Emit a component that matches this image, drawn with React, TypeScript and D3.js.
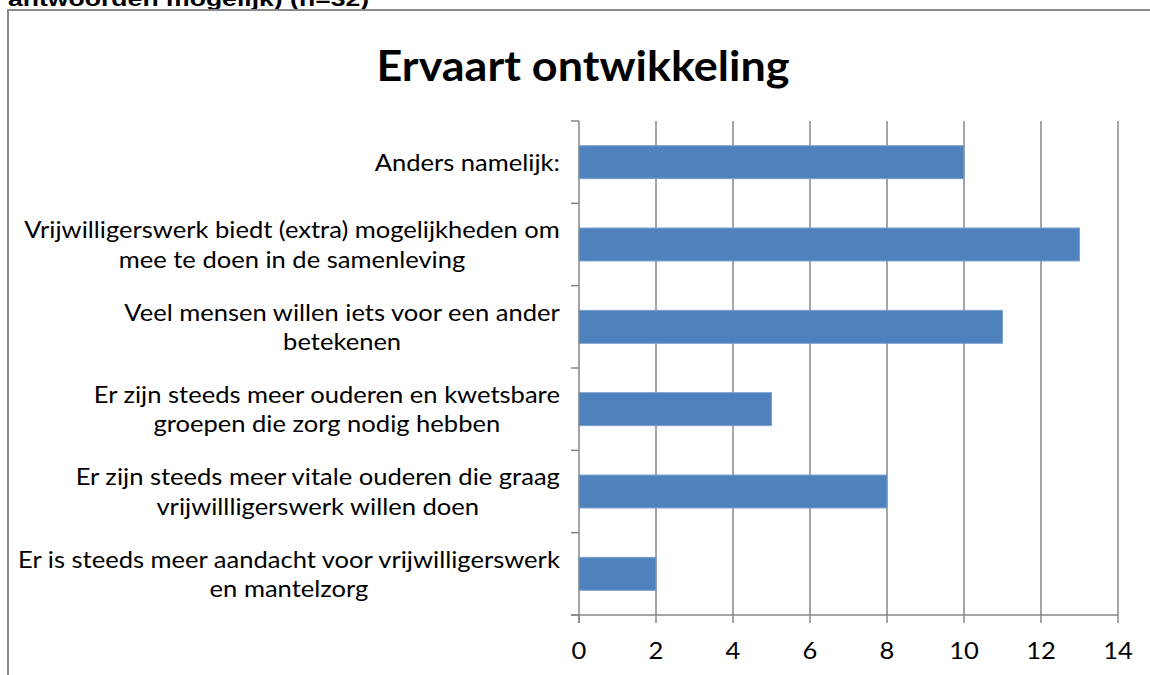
import React, { useEffect, useRef } from "react";
import * as d3 from "d3";

const categories: string[] = [
  "Anders namelijk:",
  "Vrijwilligerswerk biedt (extra) mogelijkheden om\nmee te doen in de samenleving",
  "Veel mensen willen iets voor een ander\nbetekenen",
  "Er zijn steeds meer ouderen en kwetsbare\ngroepen die zorg nodig hebben",
  "Er zijn steeds meer vitale ouderen die graag\nvrijwillligerswerk willen doen",
  "Er is steeds meer aandacht voor vrijwilligerswerk\nen mantelzorg",
];
const values: number[] = [10, 13, 11, 5, 8, 2];
const xTicks: number[] = [0, 2, 4, 6, 8, 10, 12, 14];
const title = "Ervaart ontwikkeling";
const headerText = "antwoorden mogelijk) (n=32)";

const W = 1150;
const H = 675;
const FONT = "Lato, 'Open Sans', sans-serif";
const LABEL_SIZE = 23;

export default function App() {
  const ref = useRef<SVGSVGElement | null>(null);

  useEffect(() => {
    const svg = d3.select(ref.current);
    svg.selectAll("*").remove();

    const plot = { left: 579, right: 1118, top: 121, bottom: 615 };
    const x = d3.scaleLinear().domain([0, 14]).range([plot.left, plot.right]);
    const y = d3
      .scaleBand<string>()
      .domain(categories)
      .range([plot.top, plot.bottom])
      .paddingInner(0.6)
      .paddingOuter(0.3);

    // horizontal stretch derived from the widest label line (≈536px in the reference)
    const probe = svg
      .append("text")
      .attr("font-family", FONT)
      .attr("font-size", LABEL_SIZE)
      .text(categories[1].split("\n")[0]);
    const SX = 536 / (probe.node() as SVGTextElement).getComputedTextLength();
    probe.remove();

    // header text (clipped at top)
    svg
      .append("text")
      .attr("transform", "translate(8,6) scale(1.33,1)")
      .attr("font-family", "'Liberation Sans', Arial, sans-serif")
      .attr("font-weight", "bold")
      .attr("font-size", 20)
      .attr("fill", "#000")
      .text(headerText);

    // frame
    svg
      .append("path")
      .attr("d", `M8,${H + 5} L8,10 L${W + 5},10`)
      .attr("fill", "none")
      .attr("stroke", "#8a8a8a")
      .attr("stroke-width", 2);

    // title
    const titleEl = svg
      .append("text")
      .attr("text-anchor", "middle")
      .attr("font-family", FONT)
      .attr("font-weight", "bold")
      .attr("font-size", 42)
      .attr("fill", "#000")
      .text(title);
    const tw = (titleEl.node() as SVGTextElement).getComputedTextLength();
    titleEl.attr("transform", `translate(583,81) scale(${413 / tw},1)`);

    // gridlines
    svg
      .append("g")
      .selectAll("line")
      .data(xTicks.filter((t) => t > 0))
      .join("line")
      .attr("x1", (d) => x(d))
      .attr("x2", (d) => x(d))
      .attr("y1", plot.top)
      .attr("y2", plot.bottom)
      .attr("stroke", "#878787")
      .attr("stroke-width", 1.5);

    // bars
    svg
      .append("g")
      .selectAll("rect")
      .data(categories)
      .join("rect")
      .attr("x", x(0))
      .attr("y", (d) => y(d)!)
      .attr("width", (d, i) => x(values[i]) - x(0))
      .attr("height", y.bandwidth())
      .attr("fill", "#4F81BD")
      .attr("stroke", "#7A9FD0")
      .attr("stroke-width", 1);

    // y axis line + ticks
    const yAxis = svg.append("g").attr("stroke", "#878787").attr("stroke-width", 1.5);
    yAxis
      .append("line")
      .attr("x1", x(0))
      .attr("x2", x(0))
      .attr("y1", plot.top)
      .attr("y2", plot.bottom + 8);
    const bounds = categories.map((c) => y(c)! - (y.step() * y.paddingInner()) / 2);
    bounds.push(plot.bottom);
    yAxis
      .selectAll("line.tick")
      .data(bounds)
      .join("line")
      .attr("class", "tick")
      .attr("x1", x(0) - 8)
      .attr("x2", x(0))
      .attr("y1", (d) => d)
      .attr("y2", (d) => d);

    // x axis line + ticks
    const xAxis = svg.append("g").attr("stroke", "#878787").attr("stroke-width", 1.5);
    xAxis
      .append("line")
      .attr("x1", x(0) - 8)
      .attr("x2", plot.right)
      .attr("y1", plot.bottom)
      .attr("y2", plot.bottom);
    xAxis
      .selectAll("line.tick")
      .data(xTicks)
      .join("line")
      .attr("class", "tick")
      .attr("x1", (d) => x(d))
      .attr("x2", (d) => x(d))
      .attr("y1", plot.bottom)
      .attr("y2", plot.bottom + 8);

    // x tick labels
    svg
      .append("g")
      .selectAll("text")
      .data(xTicks)
      .join("text")
      .attr("transform", (d) => `translate(${x(d)},${plot.bottom + 44}) scale(${SX},1)`)
      .attr("text-anchor", "middle")
      .attr("font-family", FONT)
      .attr("font-size", LABEL_SIZE)
      .attr("fill", "#000")
      .text((d) => String(d));

    // category labels: lines centered within block, block right-aligned
    const rightEdge = x(0) - 19;
    const lineH = 29.5;
    categories.forEach((c) => {
      const lines = c.split("\n");
      const g = svg.append("g");
      const texts = lines.map((ln) =>
        g
          .append("text")
          .attr("font-family", FONT)
          .attr("font-size", LABEL_SIZE)
          .attr("fill", "#000")
          .attr("text-anchor", "middle")
          .text(ln)
      );
      const maxW = d3.max(texts, (t) => (t.node() as SVGTextElement).getComputedTextLength()) || 0;
      const cx = rightEdge - (maxW * SX) / 2;
      const cy = y(c)! + y.bandwidth() / 2;
      const startY = cy - ((lines.length - 1) * lineH) / 2 + 8.5;
      texts.forEach((t, i) =>
        t.attr("transform", `translate(${cx},${startY + i * lineH}) scale(${SX},1)`)
      );
    });
  }, []);

  return (
    <svg
      ref={ref}
      width={W}
      height={H}
      style={{ position: "absolute", left: 0, top: 0, background: "#fff" }}
    />
  );
}
